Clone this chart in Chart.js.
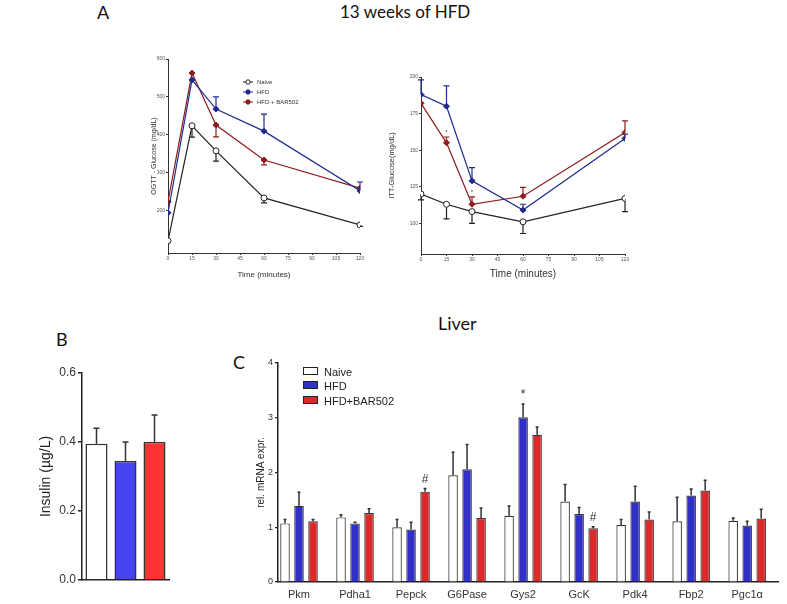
<!DOCTYPE html>
<html>
<head>
<meta charset="utf-8">
<script src="https://cdn.jsdelivr.net/npm/chart.js@4.4.1/dist/chart.umd.min.js"></script>
<style>
  body { margin: 0; width: 787px; height: 604px; position: relative; overflow: hidden; background: #fff; font-family: Arial, "Liberation Sans", sans-serif; }
  canvas { position: absolute; }
  .head { position: absolute; font-family: Lato, "Open Sans", sans-serif; font-size: 18px; color: #111; line-height: 20px; white-space: nowrap; }
  .leg { position: absolute; font-size: 11px; color: #222; line-height: 12px; white-space: nowrap; }
  .leg span { display: inline-block; width: 13px; height: 6px; border: 1px solid #222; margin-right: 6px; vertical-align: 1px; }
</style>
</head>
<body>

<div class="head" style="left:97px;top:2px;">A</div>
<div class="head" style="left:340px;top:2px;font-size:17px;">13 weeks of HFD</div>
<div class="head" style="left:438px;top:313px;">Liver</div>
<div class="head" style="left:56px;top:329px;">B</div>
<div class="head" style="left:233px;top:352px;">C</div>

<canvas id="ogtt" width="222" height="230" style="left:148px;top:50px;"></canvas>
<canvas id="itt" width="255" height="220" style="left:385px;top:60px;"></canvas>
<canvas id="insulin" width="141" height="240" style="left:37px;top:355px;"></canvas>
<canvas id="mrna" width="533" height="249" style="left:254px;top:355px;"></canvas>

<div class="leg" style="left:303px;top:366px;"><span style="background:#fff"></span>Naive</div>
<div class="leg" style="left:303px;top:380px;"><span style="background:#3030c8"></span>HFD</div>
<div class="leg" style="left:303px;top:395px;"><span style="background:#dc2a2a"></span>HFD+BAR502</div>

<script>
// time course (minutes)
const timePoints = [0, 15, 30, 60, 120];

// OGTT glucose (mg/dL), signed error: + drawn up, - drawn down
const ogttNaive = [121, 424, 358, 234, 163];
const ogttNaiveErr = [0, -30, -27, -13, -4];
const ogttHfd = [195, 545, 468, 410, 253];
const ogttHfdErr = [0, 0, 32, 45, 23];
const ogttBar = [224, 563, 426, 334, 260];
const ogttBarErr = [0, 0, -31, -13, 0];

// ITT glucose (mg/dL)
const ittNaive = [120, 113, 108, 101, 117];
const ittNaiveErr = [-4, -10, -8, -8, -9];
const ittHfd = [188, 180, 129, 109, 158];
const ittHfdErr = [10, 14, 9, 4, 3];
const ittBar = [182, 155, 113, 118.5, 162];
const ittBarErr = [0, 4, 5, 6, 8];
const ittBarMarks = ['', '*', '*', '', ''];

// insulin (µg/L)
const groups = ['Naive', 'HFD', 'HFD+BAR502'];
const insulinMean = [0.395, 0.345, 0.40];
const insulinErr = [0.045, 0.055, 0.078];

// liver mRNA
const genes = ['Pkm', 'Pdha1', 'Pepck', 'G6Pase', 'Gys2', 'GcK', 'Pdk4', 'Fbp2', 'Pgc1\u03b1'];
const mrnaNaive = [1.07, 1.18, 1.00, 1.95, 1.21, 1.47, 1.04, 1.11, 1.12];
const mrnaNaiveErr = [0.07, 0.05, 0.14, 0.42, 0.18, 0.31, 0.10, 0.44, 0.05];
const mrnaHfd = [1.39, 1.07, 0.96, 2.06, 3.01, 1.24, 1.47, 1.58, 1.03];
const mrnaHfdErr = [0.25, 0.02, 0.13, 0.45, 0.24, 0.12, 0.28, 0.12, 0.08];
const mrnaHfdMarks = ['', '', '', '', '*', '', '', '', ''];
const mrnaBar = [1.11, 1.26, 1.65, 1.17, 2.69, 0.98, 1.14, 1.67, 1.16];
const mrnaBarErr = [0.03, 0.08, 0.06, 0.18, 0.14, 0.03, 0.14, 0.19, 0.17];
const mrnaBarMarks = ['', '', '#', '', '', '#', '', '', ''];

const NAVY = '#1e2a8c', DARKRED = '#8e1c1c';

// error bars + significance marks, positions come from the chart's own y scale
const errorBars = {
  id: 'errorBars',
  beforeDatasetsDraw(chart, args, opts) {
    const ctx = chart.ctx;
    const y = chart.scales.y;
    chart.data.datasets.forEach((ds, di) => {
      if (!ds.errors) return;
      const meta = chart.getDatasetMeta(di);
      ctx.save();
      ctx.strokeStyle = ds.errorColor || '#333';
      ctx.lineWidth = opts.width || 1;
      meta.data.forEach((el, i) => {
        const err = ds.errors[i];
        if (!err) return;
        const v = typeof ds.data[i] === 'object' ? ds.data[i].y : ds.data[i];
        const end = y.getPixelForValue(v + err);
        ctx.beginPath();
        ctx.moveTo(el.x, el.y);
        ctx.lineTo(el.x, end);
        ctx.moveTo(el.x - opts.cap, end);
        ctx.lineTo(el.x + opts.cap, end);
        ctx.stroke();
      });
      ctx.restore();
    });
  },
  afterDatasetsDraw(chart, args, opts) {
    const ctx = chart.ctx;
    const y = chart.scales.y;
    chart.data.datasets.forEach((ds, di) => {
      if (!ds.marks) return;
      const meta = chart.getDatasetMeta(di);
      ctx.save();
      ctx.fillStyle = '#333';
      ctx.font = opts.markFont || '11px Arial';
      ctx.textAlign = 'center';
      ctx.textBaseline = 'bottom';
      meta.data.forEach((el, i) => {
        if (!ds.marks[i]) return;
        const v = typeof ds.data[i] === 'object' ? ds.data[i].y : ds.data[i];
        const top = y.getPixelForValue(v + Math.max(ds.errors[i], 0));
        ctx.fillText(ds.marks[i], el.x, top - (opts.markGap || 2));
      });
      ctx.restore();
    });
  }
};

// small legend drawn inside the OGTT plot
const lineLegend = {
  id: 'lineLegend',
  afterDraw(chart, args, opts) {
    if (!opts.x) return;
    const ctx = chart.ctx;
    ctx.save();
    ctx.font = '6px Arial';
    ctx.textBaseline = 'middle';
    chart.data.datasets.forEach((ds, i) => {
      const yy = opts.y + i * opts.step;
      ctx.strokeStyle = ds.borderColor;
      ctx.lineWidth = 1;
      ctx.beginPath();
      ctx.moveTo(opts.x - 5, yy);
      ctx.lineTo(opts.x + 5, yy);
      ctx.stroke();
      ctx.fillStyle = ds.pointBackgroundColor;
      ctx.beginPath();
      ctx.arc(opts.x, yy, 2.2, 0, Math.PI * 2);
      ctx.fill();
      ctx.stroke();
      ctx.fillStyle = '#333';
      ctx.fillText(ds.label, opts.x + 9, yy);
    });
    ctx.restore();
  }
};

Chart.register(errorBars, lineLegend);
Chart.defaults.font.family = 'Arial, "Liberation Sans", sans-serif';

function pts(values) {
  return timePoints.map((t, i) => ({ x: t, y: values[i] }));
}

function lineSet(label, values, errs, color, fill, style, marks) {
  return {
    label: label,
    data: pts(values),
    errors: errs,
    marks: marks,
    errorColor: color,
    borderColor: color,
    borderWidth: 1.2,
    pointBackgroundColor: fill,
    pointBorderColor: color,
    pointBorderWidth: 1,
    pointStyle: style,
    pointRadius: 3,
    tension: 0
  };
}

function timeAxis(size, titleSize) {
  return {
    type: 'linear', min: 0, max: 120,
    afterBuildTicks: (s) => { s.ticks = timePoints.concat([45, 75, 90, 105]).sort((a, b) => a - b).map(v => ({ value: v })); },
    afterFit: (s) => { s.height = size; },
    grid: { drawOnChartArea: false, drawTicks: true, tickLength: 2, color: '#333' },
    border: { display: true, color: '#333', width: 1 },
    ticks: { color: '#555', font: { size: 5 }, padding: 1, maxRotation: 0, autoSkip: false },
    title: { display: true, text: 'Time (minutes)', color: '#333', font: { size: titleSize }, padding: 0 }
  };
}

// OGTT
new Chart(document.getElementById('ogtt'), {
  type: 'line',
  data: {
    datasets: [
      lineSet('Naive', ogttNaive, ogttNaiveErr, '#222', '#fff', 'circle'),
      lineSet('HFD', ogttHfd, ogttHfdErr, NAVY, NAVY, 'rectRot'),
      lineSet('HFD + BAR502', ogttBar, ogttBarErr, DARKRED, DARKRED, 'rectRot')
    ]
  },
  options: {
    responsive: false, animation: false,
    layout: { padding: { top: 9, right: 10, left: 0, bottom: 0 } },
    plugins: {
      legend: { display: false }, tooltip: { enabled: false },
      errorBars: { cap: 3, width: 1.2 },
      lineLegend: { x: 100, y: 32, step: 10 }
    },
    scales: {
      x: timeAxis(27, 8),
      y: {
        type: 'linear', min: 89, max: 600,
        afterBuildTicks: (s) => { s.ticks = s.ticks.filter(t => t.value % 100 === 0); },
        afterFit: (s) => { s.width = 20; },
        grid: { drawOnChartArea: false, drawTicks: true, tickLength: 2, color: '#333' },
        border: { display: true, color: '#333', width: 1 },
        ticks: { stepSize: 100, color: '#555', font: { size: 5 }, padding: 1 },
        title: { display: true, text: 'OGTT - Glucose (mg/dL)', color: '#333', font: { size: 7 }, padding: 2 }
      }
    }
  }
});

// ITT
new Chart(document.getElementById('itt'), {
  type: 'line',
  data: {
    datasets: [
      lineSet('Naive', ittNaive, ittNaiveErr, '#222', '#fff', 'circle'),
      lineSet('HFD', ittHfd, ittHfdErr, NAVY, NAVY, 'rectRot'),
      lineSet('HFD + BAR502', ittBar, ittBarErr, DARKRED, DARKRED, 'rectRot', ittBarMarks)
    ]
  },
  options: {
    responsive: false, animation: false,
    layout: { padding: { top: 17, right: 15, left: 0, bottom: 0 } },
    plugins: {
      legend: { display: false }, tooltip: { enabled: false },
      errorBars: { cap: 3, width: 1.2, markFont: '6px Arial', markGap: 0 }
    },
    scales: {
      x: timeAxis(26, 10),
      y: {
        type: 'linear', min: 79, max: 200,
        afterBuildTicks: (s) => { s.ticks = s.ticks.filter(t => t.value % 25 === 0); },
        afterFit: (s) => { s.width = 36; },
        grid: { drawOnChartArea: false, drawTicks: true, tickLength: 2, color: '#333' },
        border: { display: true, color: '#333', width: 1 },
        ticks: { stepSize: 25, color: '#555', font: { size: 5 }, padding: 1 },
        title: { display: true, text: 'ITT-Glucose(mg/dL)', color: '#333', font: { size: 7.5 }, padding: 2 }
      }
    }
  }
});

// Insulin
new Chart(document.getElementById('insulin'), {
  type: 'bar',
  data: {
    labels: groups,
    datasets: [{
      data: insulinMean,
      errors: insulinErr,
      errorColor: '#333',
      backgroundColor: ['#ffffff', '#4444ee', '#ff3333'],
      borderColor: '#333',
      borderWidth: 1.5,
      barPercentage: 0.76,
      categoryPercentage: 1
    }]
  },
  options: {
    responsive: false, animation: false,
    layout: { padding: { top: 18, right: 9, left: 0, bottom: 0 } },
    plugins: {
      legend: { display: false }, tooltip: { enabled: false },
      errorBars: { cap: 3, width: 1.5 }
    },
    scales: {
      x: {
        afterFit: (s) => { s.height = 15; },
        grid: { display: false, drawTicks: false },
        border: { display: true, color: '#222', width: 1.5 },
        ticks: { display: false }
      },
      y: {
        min: 0, max: 0.6,
        afterFit: (s) => { s.width = 45; },
        grid: { drawOnChartArea: false, drawTicks: true, tickLength: 4, color: '#222', lineWidth: 1.5 },
        border: { display: true, color: '#222', width: 1.5 },
        ticks: { stepSize: 0.2, color: '#333', font: { size: 12 }, padding: 2, callback: (v) => v.toFixed(1) },
        title: { display: true, text: 'Insulin (\u00b5g/L)', color: '#222', font: { size: 14 }, padding: 1 }
      }
    }
  }
});

// Liver mRNA
function geneSet(label, values, errs, color, marks) {
  return {
    label: label,
    data: genes.map((g, i) => ({ x: i, y: values[i] })),
    errors: errs,
    marks: marks,
    errorColor: '#333',
    backgroundColor: color,
    borderColor: '#333',
    borderWidth: 1.2,
    categoryPercentage: 0.75,
    barPercentage: 0.68
  };
}

new Chart(document.getElementById('mrna'), {
  type: 'bar',
  data: {
    datasets: [
      geneSet('Naive', mrnaNaive, mrnaNaiveErr, '#ffffff'),
      geneSet('HFD', mrnaHfd, mrnaHfdErr, '#3030c8', mrnaHfdMarks),
      geneSet('HFD+BAR502', mrnaBar, mrnaBarErr, '#dc2a2a', mrnaBarMarks)
    ]
  },
  options: {
    responsive: false, animation: false,
    layout: { padding: { top: 8, right: 9, left: 0, bottom: 0 } },
    plugins: {
      legend: { display: false }, tooltip: { enabled: false },
      errorBars: { cap: 1.5, width: 1.5, markFont: '12px Arial', markGap: 3 }
    },
    scales: {
      x: {
        type: 'linear', min: -0.375, max: 8.55, offset: false,
        afterBuildTicks: (s) => { s.ticks = genes.map((g, i) => ({ value: i })); },
        afterFit: (s) => { s.height = 22; },
        grid: { display: false, drawTicks: false },
        border: { display: true, color: '#222', width: 1.5 },
        ticks: { color: '#333', font: { size: 11 }, padding: 6, maxRotation: 0, autoSkip: false, callback: (v) => genes[v] }
      },
      y: {
        min: 0, max: 4,
        afterFit: (s) => { s.width = 24; },
        grid: { drawOnChartArea: false, drawTicks: true, tickLength: 3, color: '#222', lineWidth: 1.2 },
        border: { display: true, color: '#222', width: 1.5 },
        ticks: { stepSize: 1, color: '#333', font: { size: 9 }, padding: 2 },
        title: { display: true, text: 'rel. mRNA expr.', color: '#222', font: { size: 10 }, padding: 1 }
      }
    }
  }
});
</script>
</body>
</html>
